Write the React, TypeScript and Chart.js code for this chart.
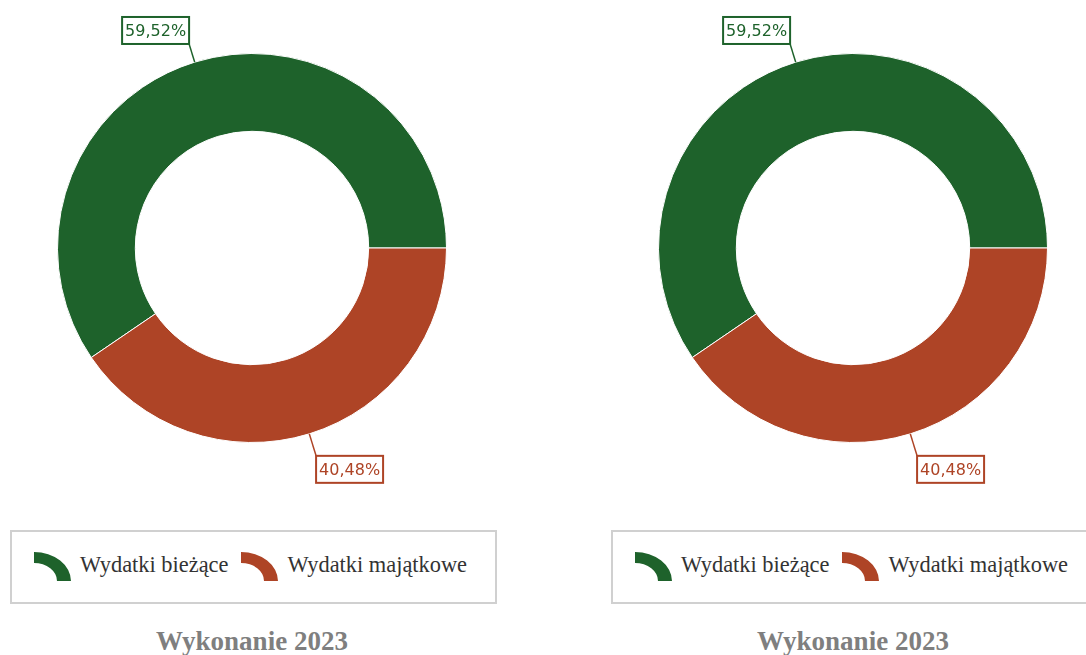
import React, { useEffect, useRef } from "react";
import { Chart, registerables } from "chart.js";

Chart.register(...registerables);

const categories = ["Wydatki bieżące", "Wydatki majątkowe"];
const values = [59.52, 40.48];
const colors = ["#1e622b", "#ae4426"];
const titles = ["Wykonanie 2023", "Wykonanie 2023"];

const fmt = (v: number) => v.toFixed(2).replace(".", ",") + "%";

const labelPlugin = {
  id: "calloutLabels",
  afterDatasetsDraw(chart: any) {
    const ctx = chart.ctx;
    const meta = chart.getDatasetMeta(0);
    const data = chart.data.datasets[0].data as number[];
    const total = data.reduce((a: number, b: number) => a + b, 0);
    meta.data.forEach((arc: any, i: number) => {
      const { x, y, startAngle, endAngle, outerRadius } = arc.getProps(
        ["x", "y", "startAngle", "endAngle", "outerRadius"],
        true
      );
      const mid = (startAngle + endAngle) / 2;
      const dx = Math.cos(mid);
      const dy = Math.sin(mid);
      const sx = x + dx * outerRadius;
      const sy = y + dy * outerRadius;
      const ext = dy < 0 ? 19 : 23;
      const px = x + dx * (outerRadius + ext);
      const py = y + dy * (outerRadius + ext);
      const color = colors[i];
      ctx.save();
      ctx.strokeStyle = color;
      ctx.lineWidth = 1.5;
      ctx.beginPath();
      ctx.moveTo(sx, sy);
      ctx.lineTo(px, py);
      ctx.stroke();
      const text = fmt((data[i] / total) * 100);
      ctx.font = "16px 'DejaVu Sans'";
      const tw = ctx.measureText(text).width;
      const bw = Math.round(tw + 6);
      const bh = 27;
      const bx = dx < 0 ? px - bw : px;
      const by = dy < 0 ? py - bh : py;
      ctx.fillStyle = "#fff";
      ctx.fillRect(bx, by, bw, bh);
      ctx.lineWidth = 2;
      ctx.strokeRect(bx, by, bw, bh);
      ctx.fillStyle = color;
      ctx.textAlign = "center";
      ctx.textBaseline = "middle";
      ctx.fillText(text, bx + bw / 2, by + bh / 2 + 1);
      ctx.restore();
    });
  },
};

function Donut() {
  const ref = useRef<HTMLCanvasElement>(null);
  useEffect(() => {
    if (!ref.current) return;
    const total = values.reduce((a, b) => a + b, 0);
    const chart = new Chart(ref.current, {
      type: "doughnut",
      data: {
        labels: categories,
        datasets: [
          {
            data: values,
            backgroundColor: colors,
            borderColor: "#ffffff",
            borderWidth: 1,
          },
        ],
      },
      options: {
        responsive: false,
        animation: false,
        cutout: "60%",
        rotation: 90 + (values[1] / total) * 360,
        layout: { padding: { left: 57, right: 57, top: 53, bottom: 57 } },
        plugins: { legend: { display: false }, tooltip: { enabled: false } },
      },
      plugins: [labelPlugin],
    });
    return () => chart.destroy();
  }, []);
  return <canvas ref={ref} width={504} height={500} style={{ display: "block" }} />;
}

function LegendIcon({ color }: { color: string }) {
  return (
    <svg width={37} height={30} viewBox="0 0 37 30" style={{ display: "block", flex: "none" }}>
      <path d="M0,0 A37,29 0 0 1 37,29 L23,29 A23,18 0 0 0 0,11 Z" fill={color} />
    </svg>
  );
}

function Panel({ left, title }: { left: number; title: string }) {
  return (
    <div style={{ position: "absolute", left, top: 0, width: 504, height: 655 }}>
      <Donut />
      <div
        style={{
          position: "absolute",
          left: 10,
          top: 530,
          width: 487,
          height: 74,
          boxSizing: "border-box",
          border: "2px solid #d0d0d0",
          display: "flex",
          alignItems: "center",
          paddingLeft: 22,
          fontFamily: "'Liberation Serif', serif",
          fontSize: 22.4,
          color: "#333",
          whiteSpace: "nowrap",
        }}
      >
        {categories.map((c, i) => (
          <div key={c} style={{ display: "flex", alignItems: "center", marginRight: 13 }}>
            <LegendIcon color={colors[i]} />
            <span style={{ marginLeft: 9, position: "relative", top: -2 }}>{c}</span>
          </div>
        ))}
      </div>
      <div
        style={{
          position: "absolute",
          left: 0,
          top: 623,
          width: 504,
          textAlign: "center",
          fontFamily: "'Liberation Serif', serif",
          fontWeight: "bold",
          fontSize: 27,
          color: "#7f7f7f",
          lineHeight: "36px",
        }}
      >
        {title}
      </div>
    </div>
  );
}

export default function App() {
  return (
    <div
      style={{
        position: "absolute",
        left: 0,
        top: 0,
        width: 1086,
        height: 655,
        overflow: "hidden",
        background: "#fff",
      }}
    >
      <Panel left={0} title={titles[0]} />
      <Panel left={601} title={titles[1]} />
    </div>
  );
}
